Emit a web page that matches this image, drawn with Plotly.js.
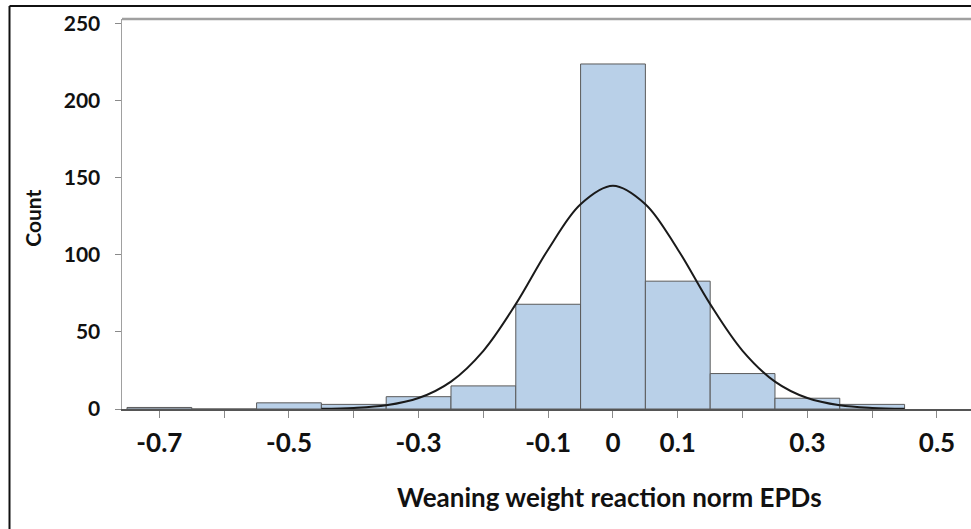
<!DOCTYPE html>
<html>
<head>
<meta charset="utf-8">
<script src="https://cdn.plot.ly/plotly-3.0.1.min.js"></script>
<style>
  html, body { margin: 0; padding: 0; background: #ffffff; }
  #chart { width: 971px; height: 529px; }
</style>
</head>
<body>
<div id="chart"></div>
<script>
// Histogram bins (centers) and counts
const binCenters = [-0.7, -0.6, -0.5, -0.4, -0.3, -0.2, -0.1, 0.0, 0.1, 0.2, 0.3, 0.4];
const binCounts  = [1, 0, 4, 3, 8, 15, 68, 224, 83, 23, 7, 3];

// Fitted normal curve
const curveX = [-0.45, -0.4, -0.35, -0.3, -0.25, -0.2, -0.15, -0.1, -0.05, 0.0, 0.05, 0.1, 0.15, 0.2, 0.25, 0.3, 0.35, 0.4, 0.45];
const curveY = [0.2, 0.7, 2.4, 7.1, 17.8, 37.8, 68.1, 103.6, 133, 145, 133, 103.6, 68.1, 37.8, 17.8, 7.1, 2.4, 0.7, 0.2];

// Axis ticks
const xTickVals = [-0.7, -0.6, -0.5, -0.4, -0.3, -0.2, -0.1, 0, 0.1, 0.2, 0.3, 0.4, 0.5];
const xTickText = ['-0.7', '', '-0.5', '', '-0.3', '', '-0.1', '0', '0.1', '', '0.3', '', '0.5'];
const yTickVals = [0, 50, 100, 150, 200, 250];

const xTitle = 'Weaning weight reaction norm EPDs';
const yTitle = 'Count';

const FONT = 'Lato, "Open Sans", "Liberation Sans", sans-serif';

const traces = [
  {
    type: 'bar',
    x: binCenters,
    y: binCounts,
    width: 0.1,
    marker: { color: '#b9d0e8', line: { color: '#5a5a5a', width: 1 } },
    hoverinfo: 'x+y',
    showlegend: false
  },
  {
    type: 'scatter',
    mode: 'lines',
    x: curveX,
    y: curveY,
    line: { color: '#1a1a1a', width: 2, shape: 'spline', smoothing: 1 },
    showlegend: false
  }
];

const layout = {
  width: 971,
  height: 529,
  margin: { l: 122, r: 0, t: 19, b: 120, pad: 0 },
  paper_bgcolor: '#ffffff',
  plot_bgcolor: '#ffffff',
  font: { family: FONT, color: '#000000' },
  bargap: 0,
  xaxis: {
    range: [-0.7577, 0.5525],
    tickmode: 'array',
    tickvals: xTickVals,
    ticktext: xTickText,
    ticks: 'outside',
    ticklen: 7,
    tickwidth: 1,
    tickcolor: '#8a8a8a',
    tickfont: { family: FONT, size: 26, color: '#111111', weight: 'bold' },
    ticklabelstandoff: 3,
    showline: true,
    linecolor: '#555555',
    linewidth: 1.5,
    showgrid: false,
    zeroline: false,
    fixedrange: true
  },
  yaxis: {
    range: [0, 253.2],
    tickmode: 'array',
    tickvals: yTickVals,
    ticks: 'outside',
    ticklen: 6,
    tickwidth: 1,
    tickcolor: '#8a8a8a',
    tickfont: { family: FONT, size: 21, color: '#111111', weight: 'bold' },
    ticklabelstandoff: 10,
    showline: true,
    linecolor: '#a0a0a0',
    linewidth: 1.5,
    mirror: false,
    showgrid: false,
    zeroline: false,
    fixedrange: true
  },
  shapes: [
    // top frame line of the plot area
    { type: 'line', xref: 'paper', yref: 'paper', x0: 0, x1: 1, y0: 1, y1: 1,
      line: { color: '#a0a0a0', width: 2.5 } },
    // outer black border (top and left)
    { type: 'line', xref: 'paper', yref: 'paper', x0: -0.1325, x1: 1.01, y0: 1.0333, y1: 1.0333,
      line: { color: '#111111', width: 2 } },
    { type: 'line', xref: 'paper', yref: 'paper', x0: -0.1325, x1: -0.1325, y0: 1.0333, y1: -0.31,
      line: { color: '#111111', width: 2 } }
  ],
  annotations: [
    { text: xTitle, xref: 'paper', yref: 'paper', x: 0.574, y: -0.226,
      xanchor: 'center', yanchor: 'middle', showarrow: false,
      font: { family: FONT, size: 26, color: '#111111', weight: 'bold' } },
    { text: yTitle, xref: 'paper', yref: 'paper', x: -0.105, y: 0.49,
      xanchor: 'center', yanchor: 'middle', showarrow: false, textangle: -90,
      font: { family: FONT, size: 21, color: '#111111', weight: 'bold' } }
  ]
};

Plotly.newPlot('chart', traces, layout, { displayModeBar: false, staticPlot: true });
</script>
</body>
</html>
